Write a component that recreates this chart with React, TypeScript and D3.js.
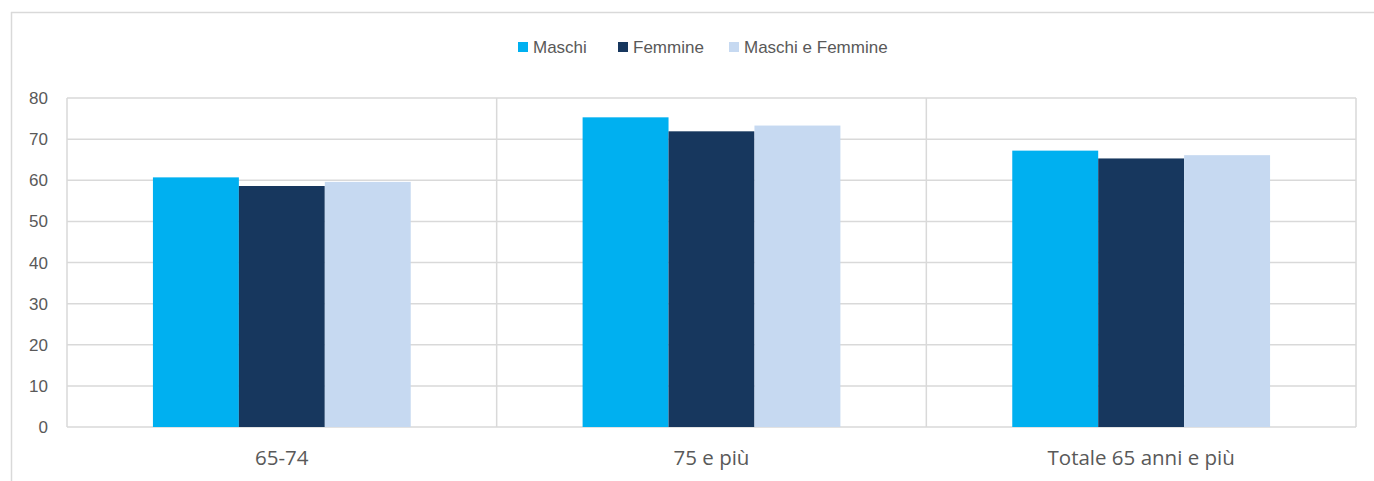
import * as d3 from "d3";

const categories = ["65-74", "75 e più", "Totale 65 anni e più"];
const seriesNames = ["Maschi", "Femmine", "Maschi e Femmine"];
const maschi = [60.7, 75.3, 67.2];
const femmine = [58.6, 71.9, 65.3];
const maschiEFemmine = [59.6, 73.3, 66.1];
const yTicks = [0, 10, 20, 30, 40, 50, 60, 70, 80];
const colors = ["#00B0F0", "#17375E", "#C6D9F1"];

const WIDTH = 1374;
const HEIGHT = 481;
const MARGIN = { top: 98, right: 18, bottom: 54, left: 67 };

function App() {
  const series = [maschi, femmine, maschiEFemmine];

  const x = d3
    .scaleBand()
    .domain(categories)
    .range([MARGIN.left, WIDTH - MARGIN.right])
    .paddingInner(0)
    .paddingOuter(0);

  // three bars centered in each category, one bar-width of gap each side
  const inner = d3
    .scaleBand()
    .domain(seriesNames)
    .range([0, x.bandwidth()])
    .paddingOuter(1)
    .paddingInner(0);

  const y = d3
    .scaleLinear()
    .domain([0, 80])
    .range([HEIGHT - MARGIN.bottom, MARGIN.top]);

  const gridColor = "#d9d9d9";
  const textColor = "#595959";

  const legendItems = [
    { name: seriesNames[0], x: 518 },
    { name: seriesNames[1], x: 618 },
    { name: seriesNames[2], x: 729 },
  ];

  return (
    <svg
      width={WIDTH}
      height={HEIGHT}
      style={{ position: "absolute", left: 0, top: 0, background: "#fff" }}
    >
      {/* outer frame */}
      <line x1={11.5} x2={11.5} y1={12} y2={HEIGHT} stroke={gridColor} strokeWidth={1.5} />
      <line x1={11} x2={WIDTH} y1={12.5} y2={12.5} stroke={gridColor} strokeWidth={1.5} />

      {/* legend */}
      {legendItems.map((d, i) => (
        <g key={d.name} transform={`translate(${d.x},47)`}>
          <rect x={0} y={-5} width={10} height={10} fill={colors[i]} />
          <text
            x={15}
            y={6}
            fontFamily="Liberation Sans, Arial, sans-serif"
            fontSize={17}
            fill={textColor}
          >
            {d.name}
          </text>
        </g>
      ))}

      {/* horizontal gridlines + y labels */}
      {yTicks.map((t) => (
        <g key={t}>
          <line
            x1={MARGIN.left}
            x2={WIDTH - MARGIN.right}
            y1={y(t)}
            y2={y(t)}
            stroke={gridColor}
            strokeWidth={1.5}
          />
          <text
            x={48}
            y={y(t) + 6}
            textAnchor="end"
            fontFamily="Liberation Sans, Arial, sans-serif"
            fontSize={17}
            fill={textColor}
          >
            {t}
          </text>
        </g>
      ))}

      {/* vertical category separators */}
      {categories.map((c) => (
        <line
          key={c}
          x1={x(c) || 0}
          x2={x(c) || 0}
          y1={y(80)}
          y2={y(0)}
          stroke={gridColor}
          strokeWidth={1.5}
        />
      ))}
      <line
        x1={WIDTH - MARGIN.right}
        x2={WIDTH - MARGIN.right}
        y1={y(80)}
        y2={y(0)}
        stroke={gridColor}
        strokeWidth={1.5}
      />

      {/* bars */}
      {categories.map((c, ci) =>
        seriesNames.map((s, si) => {
          const v = series[si][ci];
          return (
            <rect
              key={c + s}
              x={(x(c) || 0) + (inner(s) || 0)}
              y={y(v)}
              width={inner.bandwidth()}
              height={y(0) - y(v)}
              fill={colors[si]}
            />
          );
        })
      )}

      {/* x labels */}
      {categories.map((c) => (
        <text
          key={c}
          x={(x(c) || 0) + x.bandwidth() / 2}
          y={465}
          textAnchor="middle"
          fontFamily="Open Sans, sans-serif"
          fontSize={20.5}
          fill={textColor}
        >
          {c}
        </text>
      ))}
    </svg>
  );
}

export default App;
